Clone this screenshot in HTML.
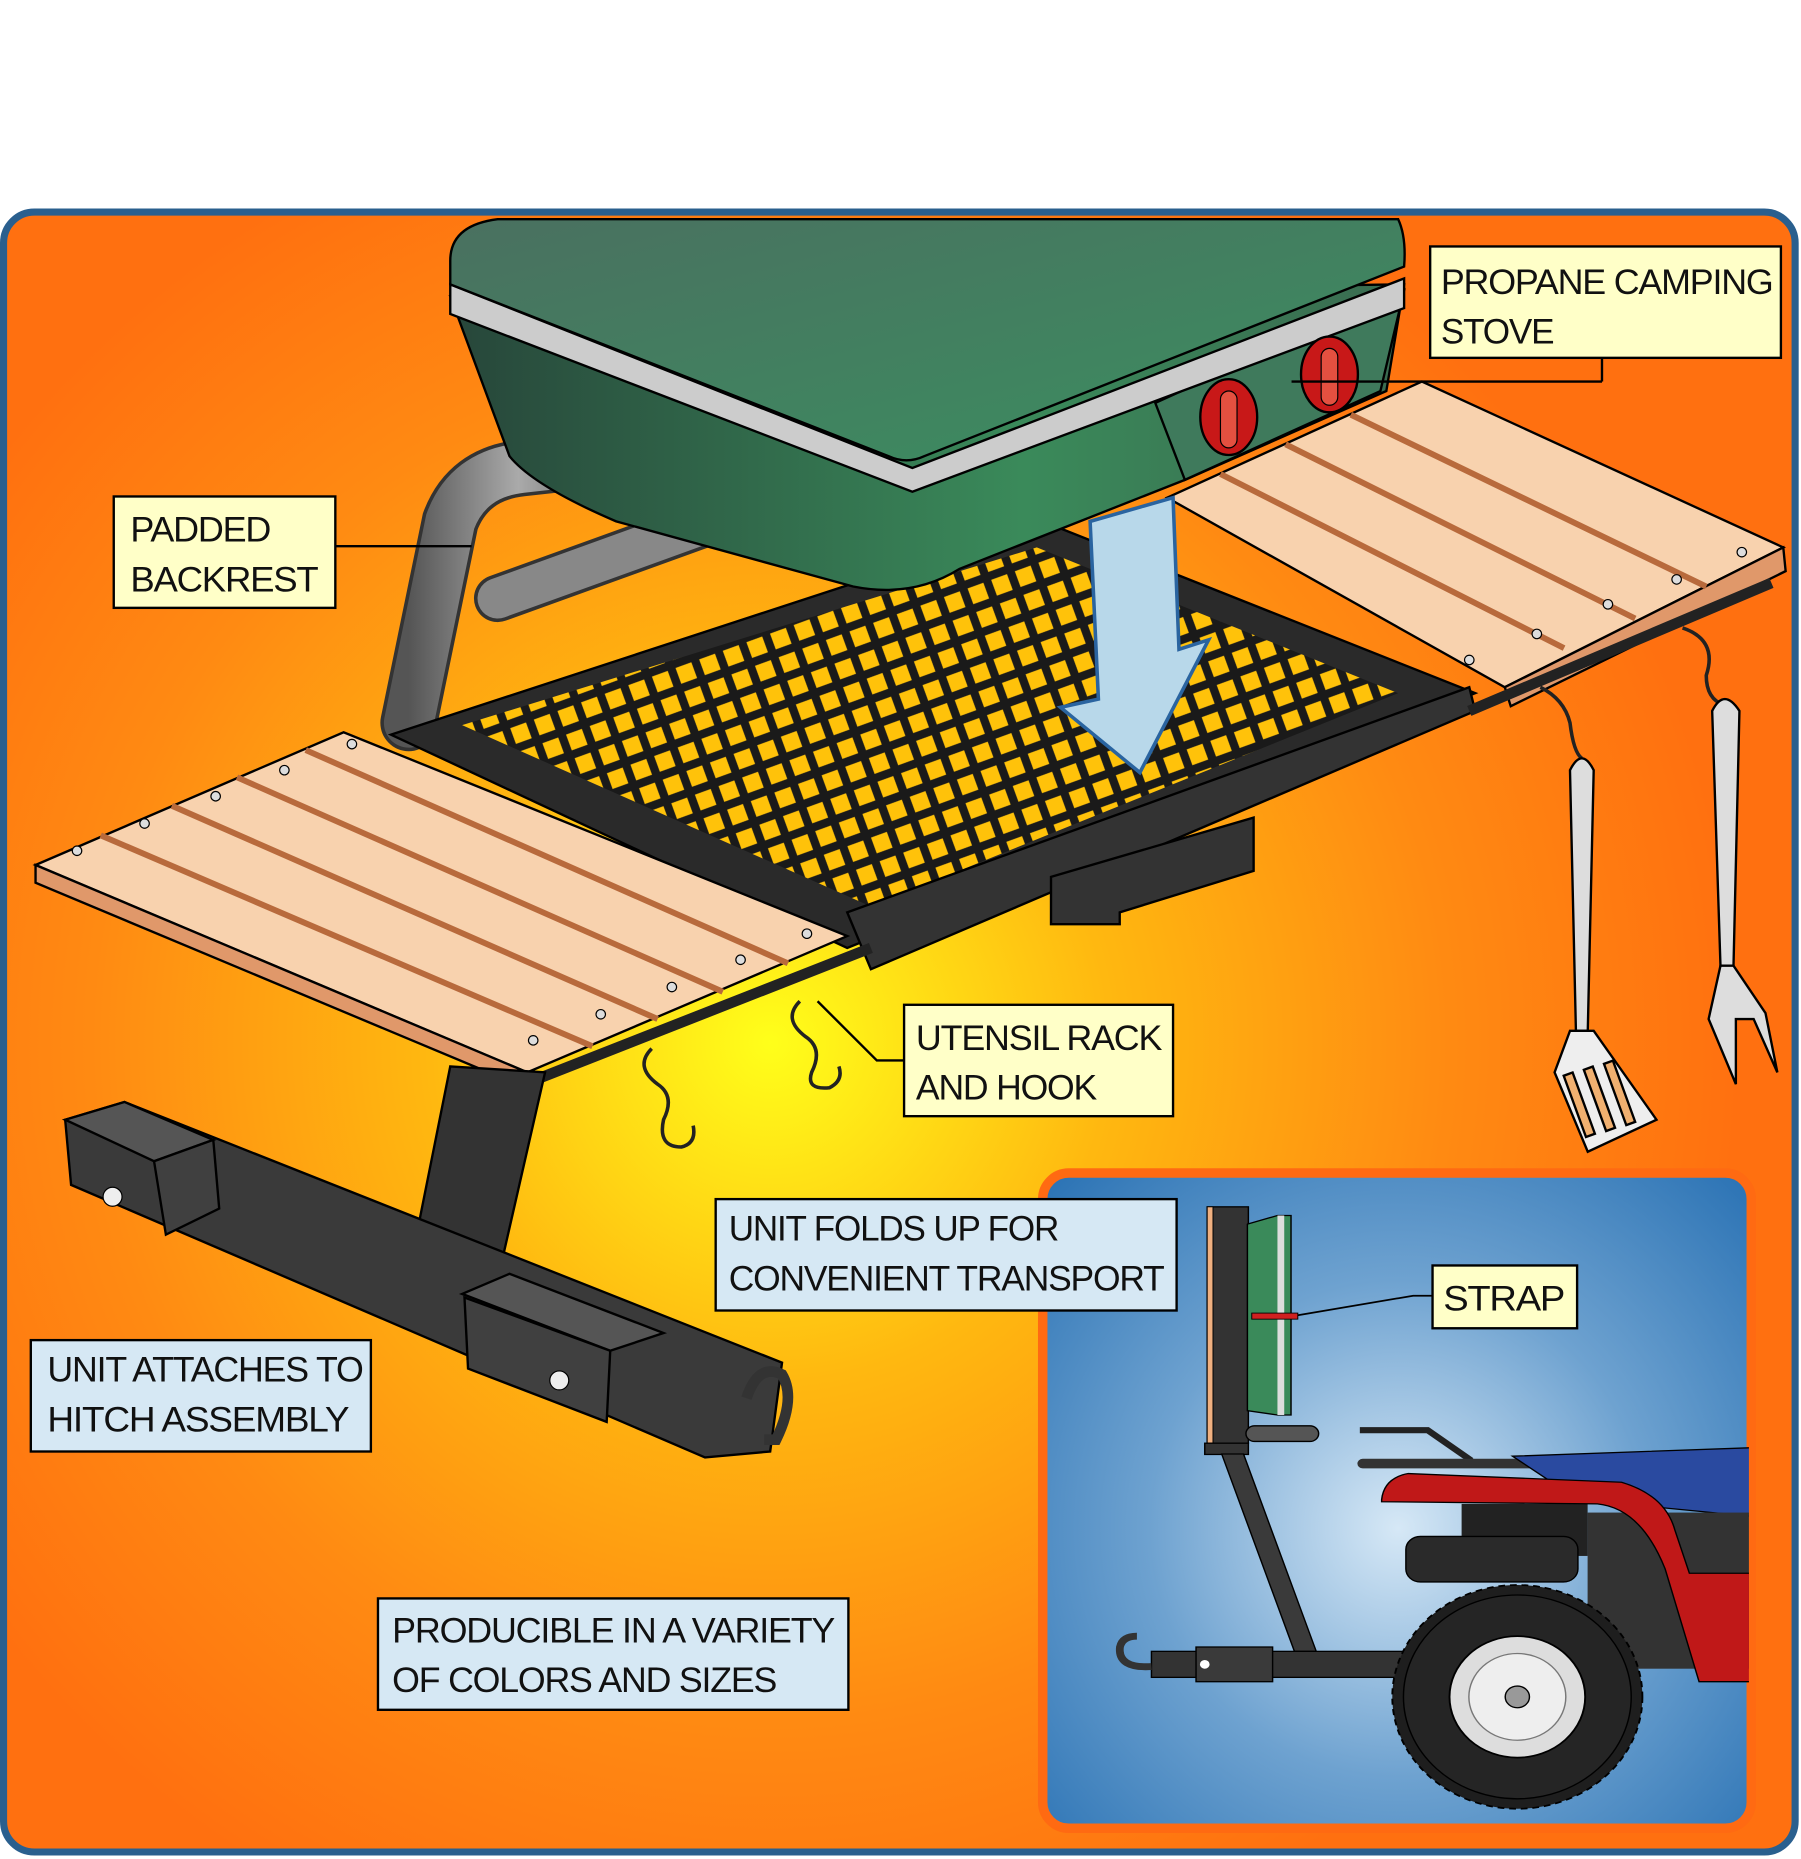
<!DOCTYPE html>
<html><head><meta charset="utf-8"><style>
html,body{margin:0;padding:0;background:#fff;}
svg{display:block;}
text{font-family:"Liberation Sans",sans-serif;font-size:30px;fill:#111;letter-spacing:-1px;}
</style></head><body>
<svg width="1801" height="1859" viewBox="0 0 1801 1859" xmlns="http://www.w3.org/2000/svg">
<defs>
<radialGradient id="bg" gradientUnits="userSpaceOnUse" cx="650" cy="880" r="820">
<stop offset="0" stop-color="#ffff1a"/><stop offset="0.35" stop-color="#ffb810"/><stop offset="0.7" stop-color="#ff8a12"/><stop offset="1" stop-color="#ff7010"/></radialGradient>
<radialGradient id="ib" gradientUnits="userSpaceOnUse" cx="1180" cy="1290" r="420">
<stop offset="0" stop-color="#d6e8f6"/><stop offset="0.5" stop-color="#6ea2d0"/><stop offset="1" stop-color="#2a72b4"/></radialGradient>
<linearGradient id="lid" x1="0" y1="0" x2="1" y2="1"><stop offset="0" stop-color="#4a7060"/><stop offset="1" stop-color="#3a9060"/></linearGradient>
<linearGradient id="body" x1="0" y1="0" x2="1" y2="0"><stop offset="0" stop-color="#27463a"/><stop offset="0.6" stop-color="#3a8a5a"/><stop offset="1" stop-color="#3a6a50"/></linearGradient>
<linearGradient id="tube" x1="0" y1="0" x2="1" y2="0"><stop offset="0" stop-color="#555"/><stop offset="0.5" stop-color="#aaa"/><stop offset="1" stop-color="#555"/></linearGradient>
<pattern id="mesh" patternUnits="userSpaceOnUse" width="30" height="30" patternTransform="rotate(25)">
<rect width="30" height="30" fill="#ffc20a"/><path d="M0 0L30 30M30 0L0 30M-15 15L15 -15M15 45L45 15" stroke="#1a1a1a" stroke-width="7"/></pattern>
</defs>
<g transform="scale(1.1849)">
<rect x="3" y="179" width="1512" height="1384" rx="26" fill="url(#bg)" stroke="#2a5f8e" stroke-width="6"/>

<!-- backrest tubes -->
<path d="M345 610 L380 440 Q395 400 440 395 L530 385" fill="none" stroke="#333" stroke-width="48" stroke-linecap="round"/>
<path d="M345 610 L380 440 Q395 400 440 395 L530 385" fill="none" stroke="url(#tube)" stroke-width="42" stroke-linecap="round"/>
<path d="M420 505 L600 440" stroke="#333" stroke-width="40" stroke-linecap="round"/><path d="M420 505 L600 440" stroke="#888" stroke-width="34" stroke-linecap="round"/>

<!-- grill -->
<polygon points="330,620 880,440 1245,585 715,800" fill="#2a2a2a" stroke="#000" stroke-width="2"/>
<polygon points="390,612 875,462 1180,585 735,765" fill="url(#mesh)"/>
<polygon points="715,770 1240,580 1245,600 735,818" fill="#333" stroke="#000" stroke-width="2"/>
<polygon points="887,740 1058,690 1058,735 945,770 945,780 887,780" fill="#333" stroke="#000" stroke-width="2"/>

<!-- right slats -->
<g stroke="#000" stroke-width="2">
<polygon points="985,420 1200,322 1505,462 1270,580" fill="#f8d2ae"/>
<polygon points="1270,580 1505,462 1507,482 1275,596" fill="#e0986a"/>
<path d="M1030,400 1320,547 M1085,375 1380,522 M1140,350 1440,495" fill="none" stroke="#b86a3c" stroke-width="5"/>
</g>
<circle cx="1240" cy="557" r="4" fill="#ddd" stroke="#000"/><circle cx="1297" cy="535" r="4" fill="#ddd" stroke="#000"/><circle cx="1357" cy="510" r="4" fill="#ddd" stroke="#000"/><circle cx="1415" cy="489" r="4" fill="#ddd" stroke="#000"/><circle cx="1470" cy="466" r="4" fill="#ddd" stroke="#000"/>
<line x1="1240" y1="600" x2="1495" y2="492" stroke="#222" stroke-width="9"/>

<!-- stove -->
<path d="M380 250 L430 385 Q450 410 520 440 L720 495 Q770 505 810 480 L1000 405 L1170 330 L1185 240 Z" fill="url(#body)" stroke="#000" stroke-width="2"/>
<path d="M975 340 L1185 245 L1165 330 L1000 405 Z" fill="#3f7a5c" stroke="#000" stroke-width="2"/>
<path d="M380 240 L770 395 L1185 235 L1185 260 L770 415 L380 265 Z" fill="#ccc" stroke="#000" stroke-width="2"/>
<path d="M380 220 Q380 190 420 185 L1180 185 Q1187 200 1185 225 L780 385 Q765 392 750 385 L380 240 Z" fill="url(#lid)" stroke="#000" stroke-width="2"/>
<ellipse cx="1037" cy="352" rx="24" ry="32" fill="#c81818" stroke="#000" stroke-width="2"/><rect x="1030" y="330" width="14" height="48" rx="7" fill="#e45040" stroke="#000"/>
<ellipse cx="1122" cy="316" rx="24" ry="32" fill="#c81818" stroke="#000" stroke-width="2"/><rect x="1115" y="294" width="14" height="48" rx="7" fill="#e45040" stroke="#000"/>
<line x1="1090" y1="322" x2="1352" y2="322" stroke="#000" stroke-width="2"/><line x1="1352" y1="302" x2="1352" y2="322" stroke="#000" stroke-width="2"/>

<!-- blue arrow -->
<polygon points="920,440 990,420 995,548 1020,540 962,652 895,597 927,590" fill="#b8d8ea" stroke="#2a64a0" stroke-width="3"/>

<!-- left slats -->
<g stroke="#000" stroke-width="2">
<polygon points="30,730 290,618 715,790 445,905" fill="#f8d2ae"/>
<polygon points="30,730 445,905 448,920 30,745" fill="#e0986a"/>
<path d="M85,705 500,883 M145,680 555,860 M200,656 610,837 M258,633 665,813" fill="none" stroke="#b86a3c" stroke-width="5"/>
</g>
<circle cx="65" cy="718" r="4" fill="#ddd" stroke="#000"/><circle cx="122" cy="695" r="4" fill="#ddd" stroke="#000"/><circle cx="182" cy="672" r="4" fill="#ddd" stroke="#000"/><circle cx="240" cy="650" r="4" fill="#ddd" stroke="#000"/><circle cx="297" cy="628" r="4" fill="#ddd" stroke="#000"/>
<circle cx="450" cy="878" r="4" fill="#ddd" stroke="#000"/><circle cx="507" cy="856" r="4" fill="#ddd" stroke="#000"/><circle cx="567" cy="833" r="4" fill="#ddd" stroke="#000"/><circle cx="625" cy="810" r="4" fill="#ddd" stroke="#000"/><circle cx="681" cy="788" r="4" fill="#ddd" stroke="#000"/>
<line x1="450" y1="912" x2="735" y2="800" stroke="#222" stroke-width="9"/>

<!-- hooks -->
<g fill="none" stroke="#222" stroke-width="3">
<path d="M550 885 Q535 900 555 915 Q570 925 560 945 Q555 968 575 968 Q588 965 585 950"/>
<path d="M675 845 Q660 860 680 875 Q695 885 685 905 Q680 920 700 918 Q712 912 708 900"/>
<path d="M1300 580 Q1320 590 1325 610 Q1328 635 1335 640"/>
<path d="M1420 530 Q1450 540 1440 570 Q1440 590 1455 595"/>
</g>
<!-- utensils -->
<path d="M1325 650 Q1335 630 1345 650 L1340 870 L1330 870 Z" fill="#ddd" stroke="#000" stroke-width="2"/>
<polygon points="1325,870 1345,870 1398,945 1340,972 1312,905" fill="#eee" stroke="#000" stroke-width="2"/>
<g stroke="#000" stroke-width="2" fill="#f0b070"><rect x="1328" y="905" width="8" height="55" transform="rotate(-20 1332 930)"/><rect x="1345" y="900" width="8" height="55" transform="rotate(-20 1349 925)"/><rect x="1362" y="895" width="8" height="55" transform="rotate(-20 1366 920)"/></g>
<path d="M1445 600 Q1455 580 1468 600 L1463 815 L1452 815 Z" fill="#ddd" stroke="#000" stroke-width="2"/>
<path d="M1452 815 L1442 860 L1465 915 L1465 860 L1480 860 L1500 905 L1490 855 L1463 815 Z" fill="#ddd" stroke="#000" stroke-width="2"/>

<!-- hitch assembly -->
<polygon points="380,900 460,905 420,1080 345,1075" fill="#333" stroke="#000" stroke-width="2"/>
<polygon points="55,945 105,930 660,1150 650,1225 595,1230 60,1000" fill="#3a3a3a" stroke="#000" stroke-width="2"/>
<polygon points="55,945 105,930 180,962 130,980" fill="#555" stroke="#000" stroke-width="2"/>
<polygon points="130,980 180,962 185,1020 140,1042" fill="#404040" stroke="#000" stroke-width="2"/>
<polygon points="390,1092 430,1075 560,1125 515,1140" fill="#555" stroke="#000" stroke-width="2"/>
<polygon points="392,1095 515,1140 512,1200 395,1155" fill="#404040" stroke="#000" stroke-width="2"/>
<path d="M630 1180 Q640 1150 660 1160 Q672 1180 655 1215 L645 1215" fill="none" stroke="#333" stroke-width="9"/>
<circle cx="95" cy="1010" r="8" fill="#eee" stroke="#000"/><circle cx="472" cy="1165" r="8" fill="#eee" stroke="#000"/>

<!-- inset -->
<rect x="880" y="990" width="598" height="553" rx="22" fill="url(#ib)" stroke="#ff6a12" stroke-width="8"/>
<svg x="882" y="994" width="594" height="545" overflow="hidden">
<g transform="translate(-4.3,-6.6) scale(0.409,0.366)">
<rect x="345" y="85" width="85" height="545" fill="#333" stroke="#000" stroke-width="3"/>
<rect x="345" y="85" width="12" height="545" fill="#f0b080" stroke="#000" stroke-width="2"/>
<polygon points="428,125 490,105 518,105 518,565 490,565 428,555" fill="#3a8a5a" stroke="#000" stroke-width="3"/>
<rect x="490" y="105" width="14" height="460" fill="#ddd"/>
<rect x="437" y="330" width="95" height="14" fill="#d02020" stroke="#000" stroke-width="2"/>
<path d="M532 335 L770 290 L810 290" fill="none" stroke="#000" stroke-width="4"/>
<rect x="425" y="590" width="150" height="36" rx="18" fill="#555" stroke="#000" stroke-width="3"/>
<rect x="340" y="630" width="90" height="26" fill="#333" stroke="#000" stroke-width="3"/>
<polygon points="375,655 420,655 570,1110 525,1110" fill="#3a3a3a" stroke="#000" stroke-width="3"/>
<rect x="230" y="1110" width="540" height="60" fill="#333" stroke="#000" stroke-width="3"/>
<rect x="322" y="1100" width="158" height="80" fill="#3a3a3a" stroke="#000" stroke-width="3"/>
<circle cx="340" cy="1140" r="10" fill="#fff"/>
<path d="M230 1145 Q160 1150 165 1100 Q170 1075 200 1075" fill="none" stroke="#333" stroke-width="16"/>
<path d="M660 600 L800 600 L890 670" fill="none" stroke="#222" stroke-width="14"/>
<rect x="655" y="666" width="470" height="22" rx="11" fill="#333"/>
<path d="M975 660 L1480 640 L1480 800 L1110 760 Z" fill="#2a4aa0" stroke="#000" stroke-width="3"/>
<rect x="870" y="770" width="260" height="120" fill="#222"/>
<rect x="1130" y="790" width="350" height="360" fill="#333"/>
<path d="M705 760 Q710 710 760 700 L1200 720 Q1290 750 1310 830 L1340 930 L1480 930 L1480 1180 L1360 1180 L1290 920 Q1240 780 1150 770 L705 765 Z" fill="#c01818" stroke="#000" stroke-width="3"/>
<rect x="755" y="845" width="355" height="105" rx="30" fill="#2a2a2a" stroke="#000" stroke-width="3"/>
<circle cx="985" cy="1215" r="258" fill="#1e1e1e" stroke="#000" stroke-width="4" stroke-dasharray="14 10"/>
<circle cx="985" cy="1215" r="235" fill="#252525" stroke="#000" stroke-width="3"/>
<circle cx="985" cy="1215" r="140" fill="#ddd" stroke="#000" stroke-width="4"/>
<circle cx="985" cy="1215" r="100" fill="#eee" stroke="#777" stroke-width="3"/>
<circle cx="985" cy="1215" r="25" fill="#999" stroke="#000" stroke-width="3"/>
</g>
</svg>

<!-- connector lines -->
<g stroke="#000" stroke-width="2" fill="none">
<line x1="283" y1="461" x2="398" y2="461"/>
<path d="M763 895 L740 895 L690 845"/>
</g>

<!-- labels -->
<g stroke="#000" stroke-width="2">
<rect x="1207" y="208" width="296" height="94" fill="#ffffc8"/>
<rect x="96" y="419" width="187" height="94" fill="#ffffc8"/>
<rect x="763" y="848" width="227" height="94" fill="#ffffc8"/>
<rect x="604" y="1012" width="389" height="94" fill="#d6e8f4"/>
<rect x="1209" y="1068" width="122" height="53" fill="#ffffc8"/>
<rect x="26" y="1131" width="287" height="94" fill="#d6e8f4"/>
<rect x="319" y="1349" width="397" height="94" fill="#d6e8f4"/>
</g>
<text x="1216" y="248" textLength="280" lengthAdjust="spacingAndGlyphs">PROPANE CAMPING</text>
<text x="1216" y="290" textLength="95" lengthAdjust="spacingAndGlyphs">STOVE</text>
<text x="110" y="457" textLength="118" lengthAdjust="spacingAndGlyphs">PADDED</text>
<text x="110" y="499" textLength="158" lengthAdjust="spacingAndGlyphs">BACKREST</text>
<text x="773" y="886" textLength="207" lengthAdjust="spacingAndGlyphs">UTENSIL RACK</text>
<text x="773" y="928" textLength="152" lengthAdjust="spacingAndGlyphs">AND HOOK</text>
<text x="615" y="1047" textLength="278" lengthAdjust="spacingAndGlyphs">UNIT FOLDS UP FOR</text>
<text x="615" y="1089" textLength="367" lengthAdjust="spacingAndGlyphs">CONVENIENT TRANSPORT</text>
<text x="1218" y="1106" textLength="102" lengthAdjust="spacingAndGlyphs">STRAP</text>
<text x="40" y="1166" textLength="266" lengthAdjust="spacingAndGlyphs">UNIT ATTACHES TO</text>
<text x="40" y="1208" textLength="254" lengthAdjust="spacingAndGlyphs">HITCH ASSEMBLY</text>
<text x="331" y="1386" textLength="373" lengthAdjust="spacingAndGlyphs">PRODUCIBLE IN A VARIETY</text>
<text x="331" y="1428" textLength="324" lengthAdjust="spacingAndGlyphs">OF COLORS AND SIZES</text>
</g>
</svg>
</body></html>
